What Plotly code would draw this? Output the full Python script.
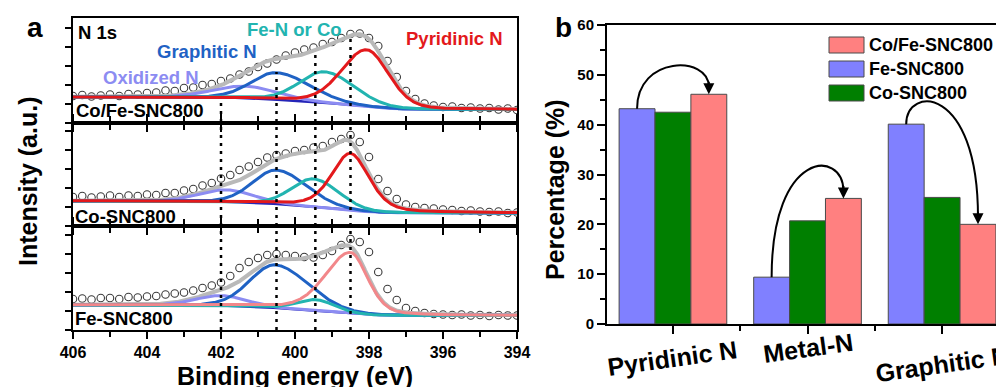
import numpy as np
import plotly.graph_objects as go

# The page places the plot 8 px from the window's top-left corner, so the figure is
# 8 px smaller than the window and every layout position is given in window pixels.
OFF = 8
W, H = 1004 - OFF, 387 - OFF
FONT = "Liberation Sans, Arial, sans-serif"


def px(x):
    return (x - OFF) / W


def py(y):
    return 1 - (y - OFF) / H


# ---------------- Panel a: N 1s XPS data ----------------
be_measured = np.linspace(406, 394, 49)

int_cofe = [27, 28, 26.5, 27.5, 28.5, 27, 29, 28.5, 30, 30.5, 32.5, 32, 35, 35.5, 38, 39, 42,
            44.5, 48.5, 51.5, 56, 59.5, 63.5, 67.5, 70.5, 73.5, 75.5, 79, 81, 85, 89, 89.5, 85,
            77, 62, 46, 32, 24, 19.5, 17.5, 16, 16.5, 15, 15.5, 14.5, 15, 13.5, 14.5, 13]
int_co = [29, 30, 28.5, 29.5, 30.5, 29, 30.5, 30, 31.5, 31, 33, 33, 35.5, 37, 40.5, 43, 47.5,
          51, 56, 59.5, 64, 68.5, 71, 72.5, 75, 76, 78.5, 80, 84, 87, 91, 84, 69,
          47, 35, 27, 21.5, 19, 18, 17.5, 16.5, 16, 15, 15.5, 14.5, 14, 14.5, 13, 13.5]
int_fe = [31, 31.5, 30.5, 32, 32, 31, 33, 32.5, 33.5, 34, 35.5, 36.5, 37.5, 39.5, 42, 44.5, 47.5,
          54, 62, 68, 72, 75, 76, 75, 74, 73, 72.5, 75, 79, 85, 91, 88, 78,
          58, 41, 30, 22, 19, 17, 16, 15.5, 15, 15.5, 14.5, 15, 14, 15, 14.5, 14.5]

component_names = ["Oxidized N", "Graphitic N", "Fe-N or Co", "Pyridinic N"]

cofe_center = [401.35, 400.5, 399.2, 398.06]
cofe_height = [12, 27, 31, 57]
cofe_hw_high = [1.0, 0.8, 0.8, 0.8]
cofe_hw_low = [1.0, 1.05, 0.95, 0.7]
cofe_eta = [0.1, 0.1, 0.1, 0.2]
cofe_bg = [26, 13.5]

co_center = [401.85, 400.5, 399.5, 398.5]
co_height = [12, 34, 28, 57]
co_hw_high = [0.85, 0.75, 0.7, 0.6]
co_hw_low = [0.85, 0.95, 0.8, 0.6]
co_eta = [0.1, 0.1, 0.1, 0.4]
co_bg = [25, 13]

fe_center = [402.0, 400.54, 399.45, 398.5]
fe_height = [10, 43, 11, 61]
fe_hw_high = [0.8, 0.8, 0.6, 0.8]
fe_hw_low = [0.8, 1.05, 0.6, 0.55]
fe_eta = [0.1, 0.1, 0.1, 0.3]
fe_bg = [25, 14.5]

guide_be = [402.0, 400.5, 399.45, 398.5]

# ---------------- Panel b: N species percentages ----------------
categories = ["Pyridinic N", "Metal-N", "Graphitic N"]
pct_fe = [43.2, 9.4, 40.1]
pct_co = [42.5, 20.7, 25.4]
pct_cofe = [46.1, 25.2, 20.0]

# ---------------- styles ----------------
C_OX = "#8C8CF2"
C_GR = "#1F62C4"
C_FEN = "#22B4B0"
C_PYR = "#E3191C"
C_PYR_LIGHT = "#F2878A"
C_BG = "#2525B8"
C_ENV = "#B9B9B9"
BAR_FE = "#8080FF"
BAR_CO = "#007F00"
BAR_COFE = "#FF8080"


def peak(E, c, h, wh, wl, eta):
    w = np.where(E >= c, wh, wl)
    x = (E - c) / w
    return h * ((1 - eta) * np.exp(-np.log(2) * x ** 2) + eta / (1 + x ** 2))


def fit(E, centers, heights, wh, wl, eta, bg):
    comps = [peak(E, *p) for p in zip(centers, heights, wh, wl, eta)]
    total = np.sum(comps, axis=0)
    cum = np.cumsum(total[::-1])[::-1]
    background = bg[1] + (bg[0] - bg[1]) * cum / cum[0]
    return comps, background


E = np.linspace(406, 394, 1201)

panels = [
    ("x", "y", int_fe, (fe_center, fe_height, fe_hw_high, fe_hw_low, fe_eta, fe_bg), C_PYR_LIGHT),
    ("x2", "y2", int_co, (co_center, co_height, co_hw_high, co_hw_low, co_eta, co_bg), C_PYR),
    ("x3", "y3", int_cofe, (cofe_center, cofe_height, cofe_hw_high, cofe_hw_low, cofe_eta, cofe_bg), C_PYR),
]

fig = go.Figure()

for xa, ya, meas, params, pyr_col in panels:
    comps, bg = fit(E, *params)
    env = bg + np.sum(comps, axis=0)
    fig.add_trace(go.Scatter(x=be_measured, y=meas, mode="markers", xaxis=xa, yaxis=ya,
                             marker=dict(symbol="circle", size=7.5, color="white",
                                         line=dict(color="#3a3a3a", width=1.1)),
                             showlegend=False, hoverinfo="skip"))
    fig.add_trace(go.Scatter(x=E, y=env, mode="lines", xaxis=xa, yaxis=ya,
                             line=dict(color=C_ENV, width=4), showlegend=False))
    fig.add_trace(go.Scatter(x=E, y=bg, mode="lines", xaxis=xa, yaxis=ya,
                             line=dict(color=C_BG, width=2.5), showlegend=False))
    for name, comp, col in zip(component_names, comps, [C_OX, C_GR, C_FEN, pyr_col]):
        fig.add_trace(go.Scatter(x=E, y=comp + bg, mode="lines", xaxis=xa, yaxis=ya, name=name,
                                 line=dict(color=col, width=3), showlegend=False))

# bars
bar_w = 0.8 / 3
for name, vals, col in [("Fe-SNC800", pct_fe, BAR_FE), ("Co-SNC800", pct_co, BAR_CO),
                        ("Co/Fe-SNC800", pct_cofe, BAR_COFE)]:
    fig.add_trace(go.Bar(x=list(range(len(categories))), y=vals, name=name, xaxis="x4", yaxis="y4",
                         marker=dict(color=col, line=dict(color="#4a4a4a", width=1)),
                         showlegend=False))

# ---------------- axes ----------------
xdom_a = [px(73), px(517)]
common_x = dict(range=[406, 394], domain=xdom_a, showline=True, linecolor="black", linewidth=2,
                ticks="outside", ticklen=7, tickwidth=2, tickcolor="black", tick0=394, dtick=2,
                minor=dict(dtick=1, ticks="outside", ticklen=5, tickwidth=2, tickcolor="black"),
                showgrid=False, zeroline=False, automargin=False,
                tickfont=dict(family=FONT, size=16, color="black", weight="bold"))
common_y = dict(showline=True, linecolor="black", linewidth=2, mirror=True, ticks="outside",
                ticklen=6, tickwidth=2, tickcolor="black", tick0=0, dtick=19, automargin=False,
                showticklabels=False, showgrid=False, zeroline=False)

fig.update_layout(
    xaxis=dict(**common_x, anchor="y", mirror="ticks", showticklabels=True),
    xaxis2=dict(**common_x, anchor="y2", mirror="ticks", showticklabels=False),
    xaxis3=dict(**common_x, anchor="y3", mirror=True, showticklabels=False),
    yaxis=dict(**common_y, anchor="x", domain=[py(330), py(226)], range=[0, 104]),
    yaxis2=dict(**common_y, anchor="x2", domain=[py(226), py(123)], range=[0, 103]),
    yaxis3=dict(**common_y, anchor="x3", domain=[py(123), py(18)], range=[0, 105]),
    xaxis4=dict(anchor="y4", domain=[px(607), 1.0], range=[-0.49, 2.46], showline=True,
                linecolor="black", linewidth=2, mirror=True, ticks="outside", ticklen=8,
                tickwidth=2, tickcolor="black", tickvals=[0, 1, 2], showticklabels=False,
                minor=dict(tickvals=[0.5, 1.5], ticks="outside", ticklen=5, tickwidth=2,
                           tickcolor="black"),
                showgrid=False, zeroline=False, automargin=False),
    yaxis4=dict(anchor="x4", domain=[py(324), py(25)], range=[0, 60], dtick=10, showline=True,
                linecolor="black", linewidth=2, ticks="outside", ticklen=8, tickwidth=2,
                tickcolor="black",
                minor=dict(dtick=5, ticks="outside", ticklen=5, tickwidth=2, tickcolor="black"),
                showgrid=False, zeroline=False, automargin=False,
                tickfont=dict(family=FONT, size=15, color="black", weight="bold")),
    barmode="group", bargap=0.2, bargroupgap=0,
    width=W, height=H, margin=dict(l=0, r=0, t=0, b=0, pad=0, autoexpand=False),
    paper_bgcolor="white", plot_bgcolor="white", showlegend=False,
)

shapes = []
annotations = []

# guide lines (dotted) in panel a
guide_top = [100, 72, 55, 38]
for be, top in zip(guide_be, guide_top):
    shapes.append(dict(type="line", xref="x", yref="paper", x0=be, x1=be, y0=py(330), y1=py(top),
                       line=dict(color="black", width=2.5, dash="3px,5px"), layer="above"))


def txt(text, x, y, size, color="black", xanchor="center", weight="bold", angle=0, xref="paper"):
    annotations.append(dict(text=text, x=x, y=y, xref=xref, yref="paper", showarrow=False,
                            xanchor=xanchor, yanchor="middle", textangle=angle, borderpad=0,
                            font=dict(family=FONT, size=size, color=color, weight=weight)))


# panel a texts
txt("a", px(35), py(28), 28)
txt("N 1s", px(77), py(32), 18.5, xanchor="left")
txt("Fe-N or Co", px(294), py(29), 18.5, color=C_FEN)
txt("Pyridinic N", px(454), py(38), 18.5, color=C_PYR)
txt("Graphitic N", px(207), py(51), 18.5, color=C_GR)
txt("Oxidized N", px(151), py(78), 18.5, color=C_OX)
txt("Co/Fe-SNC800", px(75), py(111), 18.5, xanchor="left")
txt("Co-SNC800", px(74), py(216), 18.5, xanchor="left")
txt("Fe-SNC800", px(74), py(318), 18.5, xanchor="left")
txt("Binding energy (eV)", px(295), py(376), 25)
txt("Intensity (a.u.)", px(28), py(182), 25, angle=-90)

# panel b texts
txt("b", px(563), py(28), 28)
txt("Percentage (%)", px(555), py(190), 25, angle=-90)
label_y = [358, 348, 364]
for i, (cat, ly) in enumerate(zip(categories, label_y)):
    txt(cat, i, py(ly), 25, angle=-8, xref="x4")

# custom legend
legend_rows = [("Co/Fe-SNC800", BAR_COFE, 45), ("Fe-SNC800", BAR_FE, 69), ("Co-SNC800", BAR_CO, 93)]
for name, col, yc in legend_rows:
    shapes.append(dict(type="rect", xref="paper", yref="paper", x0=px(829), x1=px(864),
                       y0=py(yc + 8), y1=py(yc - 8), fillcolor=col,
                       line=dict(color="#4a4a4a", width=1)))
    txt(name, px(868), py(yc), 18, xanchor="left")

# curved arrows (blue -> red bar tops)
arc_top = [51.6, 30.7, 43.5]
for i in range(len(categories)):
    x0, y0 = i - bar_w, pct_fe[i]
    x1, y1 = i + bar_w, pct_cofe[i]
    Y = (arc_top[i] - 0.125 * (y0 + y1)) / 0.75
    path = f"M {x0},{y0} C {x0},{Y} {x1},{Y} {x1},{y1 + 1.5}"
    shapes.append(dict(type="path", xref="x4", yref="y4", path=path,
                       line=dict(color="black", width=2)))
    annotations.append(dict(x=x1, y=y1, xref="x4", yref="y4", text="", showarrow=True,
                            ax=0, ay=-14, arrowhead=2, arrowsize=1.1, arrowwidth=2,
                            arrowcolor="black", standoff=0))

fig.update_layout(shapes=shapes, annotations=annotations)

fig.write_html("out.html")
